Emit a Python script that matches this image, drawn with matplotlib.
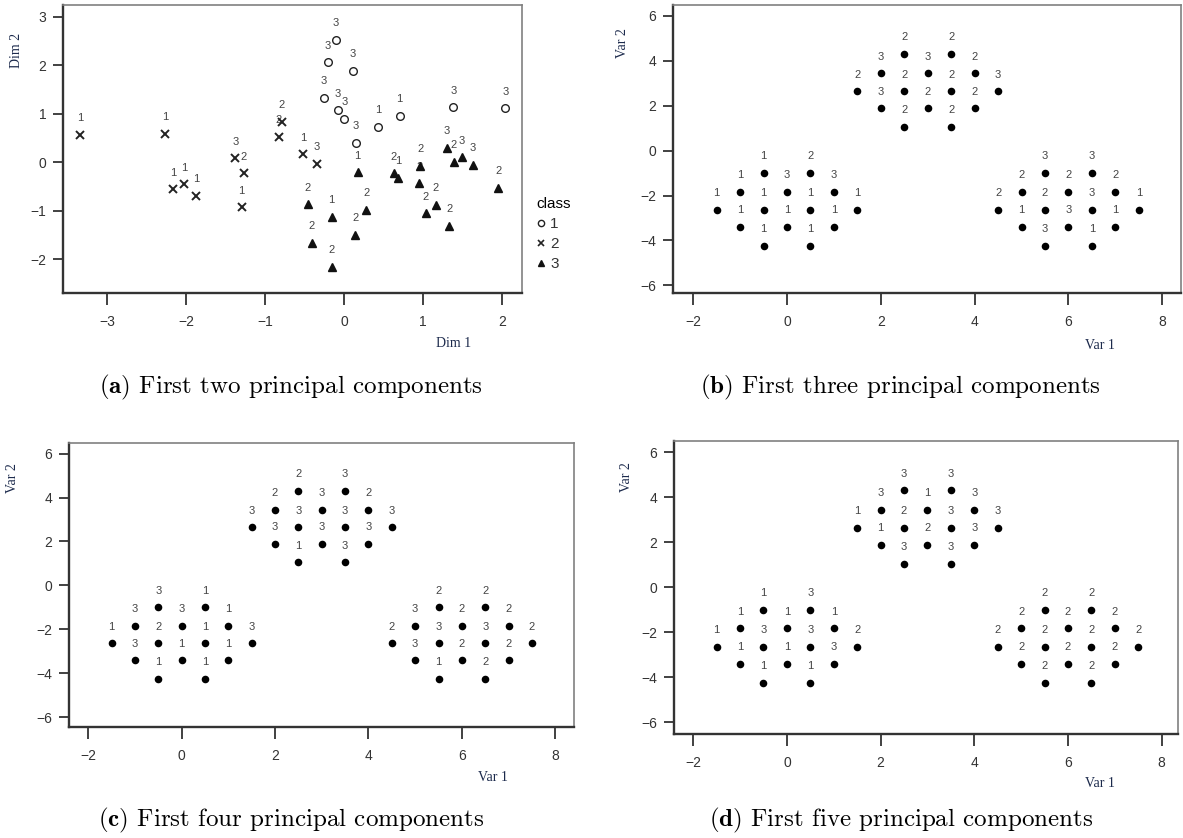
import matplotlib.pyplot as plt
from matplotlib.lines import Line2D

plt.rcParams['font.family'] = ['Liberation Sans', 'DejaVu Sans']
plt.rcParams['mathtext.fontset'] = 'cm'

W, H = 1183, 838

# scores on the first two dimensions, grouped by class
dim1_c1 = [-0.11, -0.21, 0.11, -0.26, -0.08, 0.00, 0.15, 0.43, 0.70, 1.38, 2.04]
dim2_c1 = [2.52, 2.06, 1.88, 1.32, 1.07, 0.89, 0.40, 0.73, 0.95, 1.13, 1.11]
lab_c1 = [3, 3, 3, 3, 3, 3, 3, 1, 1, 3, 3]

dim1_c2 = [-3.34, -2.27, -2.17, -2.03, -1.88, -1.38, -1.27, -1.30, -0.79, -0.83, -0.52, -0.35]
dim2_c2 = [0.56, 0.58, -0.56, -0.46, -0.69, 0.08, -0.23, -0.93, 0.83, 0.52, 0.16, -0.03]
lab_c2 = [1, 1, 1, 1, 1, 3, 2, 1, 2, 2, 1, 3]

dim1_c3 = [0.17, -0.46, -0.16, -0.41, -0.16, 0.14, 0.28, 0.63, 0.68, 0.96, 0.95,
           1.03, 1.16, 1.33, 1.30, 1.39, 1.49, 1.63, 1.95]
dim2_c3 = [-0.21, -0.87, -1.13, -1.66, -2.16, -1.50, -0.98, -0.23, -0.32, -0.08, -0.44,
           -1.06, -0.88, -1.32, 0.30, 0.00, 0.10, -0.06, -0.53]
lab_c3 = [1, 2, 1, 2, 2, 2, 2, 2, 1, 2, 2, 2, 2, 2, 3, 2, 3, 3, 2]

# simulated design points: lower-left, upper and lower-right clusters
var1 = [-0.5, 0.5, -1, 0, 1, -1.5, -0.5, 0.5, 1.5, -1, 0, 1, -0.5, 0.5,
        2.5, 3.5, 2, 3, 4, 1.5, 2.5, 3.5, 4.5, 2, 3, 4, 2.5, 3.5,
        5.5, 6.5, 5, 6, 7, 4.5, 5.5, 6.5, 7.5, 5, 6, 7, 5.5, 6.5]
var2 = [-1.0, -1.0, -1.83, -1.83, -1.83, -2.64, -2.64, -2.64, -2.64, -3.4, -3.4, -3.4, -4.25, -4.25,
        4.3, 4.3, 3.45, 3.45, 3.45, 2.65, 2.65, 2.65, 2.65, 1.88, 1.88, 1.88, 1.05, 1.05,
        -1.0, -1.0, -1.83, -1.83, -1.83, -2.64, -2.64, -2.64, -2.64, -3.4, -3.4, -3.4, -4.25, -4.25]

# predicted class for each point, using 3, 4 and 5 components
lab_3pc = [1, 2, 1, 3, 3, 1, 1, 1, 1, 1, 1, 1, 1, 1,
           2, 2, 3, 3, 2, 2, 2, 2, 3, 3, 2, 2, 2, 2,
           3, 3, 2, 2, 2, 2, 2, 3, 1, 1, 3, 1, 3, 1]
lab_4pc = [3, 1, 3, 3, 1, 1, 2, 1, 3, 3, 1, 1, 1, 1,
           2, 3, 2, 3, 2, 3, 3, 3, 3, 3, 3, 3, 1, 3,
           2, 2, 3, 2, 2, 2, 3, 3, 2, 3, 2, 2, 1, 2]
lab_5pc = [1, 3, 1, 1, 1, 1, 3, 3, 2, 1, 1, 3, 1, 1,
           3, 3, 3, 1, 3, 1, 2, 3, 3, 1, 2, 3, 3, 3,
           2, 2, 2, 2, 2, 2, 2, 2, 2, 2, 2, 2, 2, 2]

captions = ['First two principal components', 'First three principal components',
            'First four principal components', 'First five principal components']

fig = plt.figure(figsize=(W / 100, H / 100), dpi=100)


def box(l, t, r, b):
    return fig.add_axes([l / W, 1 - b / H, (r - l) / W, (b - t) / H])


def style(ax):
    for s in ['top', 'right']:
        ax.spines[s].set_color('#808080')
        ax.spines[s].set_linewidth(1.2)
    for s in ['left', 'bottom']:
        ax.spines[s].set_color('#333333')
        ax.spines[s].set_linewidth(1.7)
    ax.tick_params(axis='x', length=8.5, width=1.3, pad=7, colors='#333333', labelsize=10)
    ax.tick_params(axis='y', length=7, width=1.3, pad=5, colors='#333333', labelsize=10)


def put_labels(ax, xs, ys, labs, size=8):
    for x, y, t in zip(xs, ys, labs):
        ax.annotate(str(t), (x, y), xytext=(0, 12), textcoords='offset points',
                    ha='center', va='center', fontsize=size, color='#444444', zorder=2)


def axis_text(x, y, s, rot=0):
    fig.text(x / W, 1 - y / H, s, family='Liberation Serif', fontsize=10,
             color='#1c2a4c', rotation=rot, ha='center', va='center')


# (a) first two components
ax = box(63, 5, 522, 293)
ax.plot(dim1_c1, dim2_c1, 'o', ms=5.5, mfc='none', mec='#222222', mew=1.0, zorder=3)
ax.plot(dim1_c2, dim2_c2, 'x', ms=6, mec='#222222', mew=1.4, zorder=3)
ax.plot(dim1_c3, dim2_c3, '^', ms=6, color='#111111', zorder=3)
put_labels(ax, dim1_c1, dim2_c1, lab_c1)
put_labels(ax, dim1_c2, dim2_c2, lab_c2)
put_labels(ax, dim1_c3, dim2_c3, lab_c3)
ax.set_xlim(-3.56, 2.25)
ax.set_ylim(-2.70, 3.24)
ax.set_xticks(range(-3, 3))
ax.set_yticks(range(-2, 4))
style(ax)
handles = [Line2D([], [], marker='o', ls='', ms=4.5, mfc='none', mec='#222222'),
           Line2D([], [], marker='x', ls='', ms=5, mec='#222222', mew=1.2),
           Line2D([], [], marker='^', ls='', ms=5, color='#111111')]
ax.legend(handles, ['1', '2', '3'], title='class', loc='upper left',
          bbox_to_anchor=(1.015, 0.36), frameon=False, fontsize=11, title_fontsize=11,
          handlelength=0.6, handletextpad=0.3, labelspacing=0.4, borderpad=0,
          alignment='left', labelcolor='#333333')
axis_text(17, 50, 'Dim 2', rot=90)
axis_text(454, 343, 'Dim 1')

# (b)-(d) simulated clusters
panels = [((673, 5, 1181, 293), (-2.43, 8.40), (-6.34, 6.49), lab_3pc, (623, 43), (1100, 345)),
          ((69, 443, 574, 727), (-2.41, 8.40), (-6.44, 6.48), lab_4pc, (12, 478), (493, 777)),
          ((674, 441, 1178, 734), (-2.41, 8.35), (-6.53, 6.50), lab_5pc, (626, 477), (1100, 783))]
for rect, xl, yl, labs, ypos, xpos in panels:
    ax = box(*rect)
    ax.scatter(var1, var2, s=30, c='black', linewidths=0, zorder=3)
    put_labels(ax, var1, var2, labs)
    ax.set_xlim(*xl)
    ax.set_ylim(*yl)
    ax.set_xticks(range(-2, 9, 2))
    ax.set_yticks(range(-6, 7, 2))
    style(ax)
    axis_text(ypos[0], ypos[1], 'Var 2', rot=90)
    axis_text(xpos[0], xpos[1], 'Var 1')

# sub-figure captions
for (cx, cy), tag, cap in zip([(291, 387), (900, 387), (291, 820), (901, 820)],
                              'abcd', captions):
    fig.text(cx / W, 1 - cy / H, r'$\mathbf{(' + tag + ')}$ ' + cap,
             family='cmr10', fontsize=18, ha='center', va='center')

fig.savefig('out.png', dpi=100)
